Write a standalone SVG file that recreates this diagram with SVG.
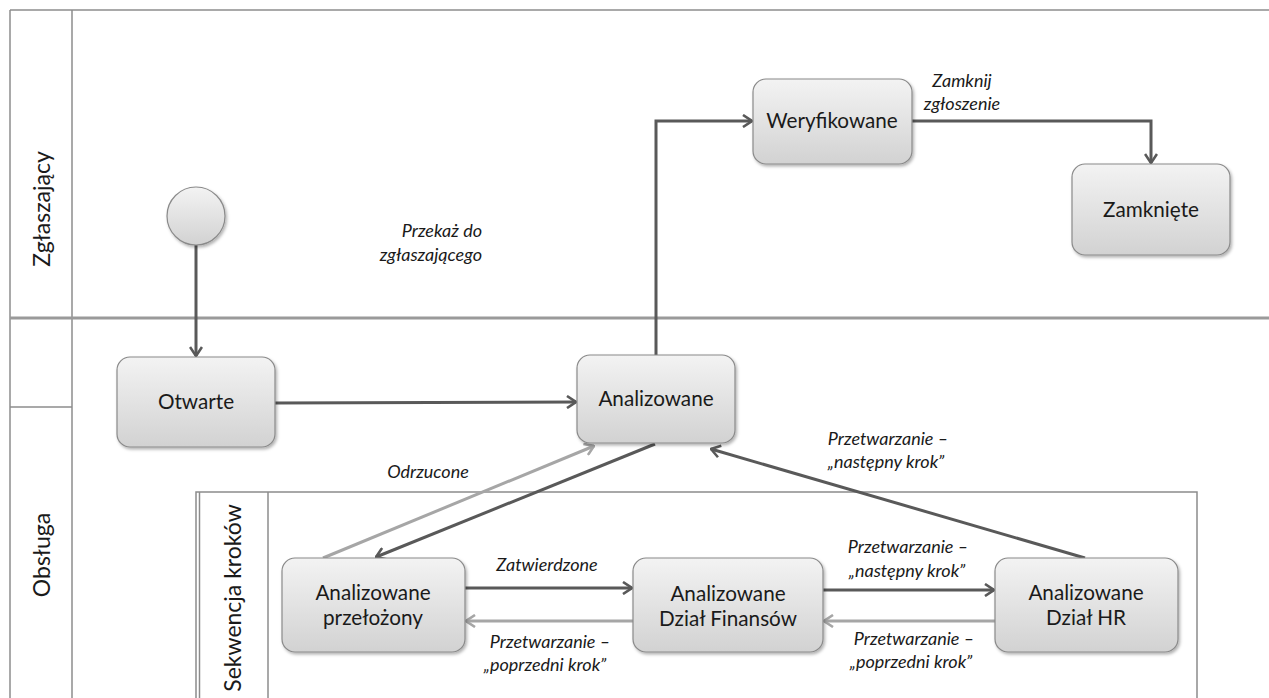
<svg xmlns="http://www.w3.org/2000/svg" width="1269" height="698" viewBox="0 0 1269 698">
<defs>
<linearGradient id="ng" x1="0" y1="0" x2="0" y2="1">
<stop offset="0" stop-color="#f3f3f3"/>
<stop offset="1" stop-color="#d2d2d2"/>
</linearGradient>
<filter id="sh" x="-10%" y="-10%" width="125%" height="130%">
<feDropShadow dx="1.5" dy="2" stdDeviation="1.5" flood-color="#000" flood-opacity="0.3"/>
</filter>
<marker id="ad" viewBox="0 0 12 14" refX="11" refY="7" markerWidth="12" markerHeight="14" markerUnits="userSpaceOnUse" orient="auto">
<path d="M2,1 L11,7 L2,13" fill="none" stroke="#595959" stroke-width="2.6"/>
</marker>
<marker id="al" viewBox="0 0 12 14" refX="11" refY="7" markerWidth="12" markerHeight="14" markerUnits="userSpaceOnUse" orient="auto">
<path d="M2,1 L11,7 L2,13" fill="none" stroke="#a6a6a6" stroke-width="2.6"/>
</marker>
</defs>
<style>
.lane{fill:none;stroke:#8c8c8c;stroke-width:1.5}
.node rect,.node circle{fill:url(#ng);stroke:#8a8a8a;stroke-width:1.2;filter:url(#sh)}
.nt{font-family:Lato,"Liberation Sans",sans-serif;font-size:20.7px;fill:#1a1a1a;text-anchor:middle}
.lt{font-family:Lato,"Liberation Sans",sans-serif;font-size:23px;fill:#1a1a1a;text-anchor:middle}
.el{font-family:Lato,"Liberation Sans",sans-serif;font-size:18px;font-style:italic;fill:#1a1a1a;text-anchor:middle}
.cd{fill:none;stroke:#595959;stroke-width:3;marker-end:url(#ad)}
.cl{fill:none;stroke:#a6a6a6;stroke-width:3;marker-end:url(#al)}
</style>
<rect width="1269" height="698" fill="#fff"/>
<g id="lanes">
<line class="lane" x1="10" y1="10" x2="1269" y2="10"/>
<line class="lane" x1="10" y1="10" x2="10" y2="698"/>
<line class="lane" x1="72" y1="10" x2="72" y2="698"/>
<line x1="10" y1="318" x2="1269" y2="318" stroke="#9a9a9a" stroke-width="3"/>
<line class="lane" x1="10" y1="407" x2="72" y2="407"/>
<text class="lt" transform="translate(50,209) rotate(-90)">Zgłaszający</text>
<text class="lt" transform="translate(50,555) rotate(-90)">Obsługa</text>
</g>
<g id="sekwencja">
<polyline class="lane" points="196,698 196,492 1197,492 1197,698"/>
<line class="lane" x1="199.5" y1="492" x2="199.5" y2="698"/>
<line class="lane" x1="268" y1="492" x2="268" y2="698"/>
<text class="lt" transform="translate(241,598) rotate(-90)">Sekwencja kroków</text>
</g>
<g id="connectors">
<line class="cd" x1="196" y1="245" x2="196" y2="356"/>
<line class="cd" x1="275" y1="403" x2="576" y2="402"/>
<polyline class="cd" points="656,355 656,121 752,121"/>
<polyline class="cd" points="912,121 1151,121 1151,163"/>
<line class="cd" x1="655" y1="444" x2="376" y2="557"/>
<line class="cl" x1="323" y1="558" x2="594" y2="446"/>
<line class="cd" x1="1085" y1="558" x2="711" y2="449"/>
<line class="cd" x1="465" y1="588" x2="632" y2="588"/>
<line class="cl" x1="633" y1="621" x2="466" y2="621"/>
<line class="cd" x1="823" y1="590" x2="994" y2="590"/>
<line class="cl" x1="995" y1="621" x2="824" y2="621"/>
<text class="el" x="962" y="87">Zamknij</text>
<text class="el" x="962" y="110">zgłoszenie</text>
<text class="el" x="482" y="237" style="text-anchor:end">Przekaż do</text>
<text class="el" x="482" y="261" style="text-anchor:end">zgłaszającego</text>
<text class="el" x="428" y="478">Odrzucone</text>
<text class="el" x="547" y="571">Zatwierdzone</text>
<text class="el" x="550" y="648">Przetwarzanie –</text>
<text class="el" x="545" y="671">„poprzedni krok”</text>
<text class="el" x="908" y="553">Przetwarzanie –</text>
<text class="el" x="907" y="577">„następny krok”</text>
<text class="el" x="914" y="645">Przetwarzanie –</text>
<text class="el" x="911" y="668">„poprzedni krok”</text>
<text class="el" x="888" y="445">Przetwarzanie –</text>
<text class="el" x="886" y="468">„następny krok”</text>
</g>
<g id="start" class="node"><circle cx="196" cy="216" r="29"/></g>
<g id="otwarte" class="node"><rect x="117" y="357" width="158" height="90" rx="13"/><text class="nt" x="196" y="409">Otwarte</text></g>
<g id="analizowane" class="node"><rect x="577" y="355" width="158" height="88" rx="13"/><text class="nt" x="656" y="406">Analizowane</text></g>
<g id="weryfikowane" class="node"><rect x="753" y="79" width="159" height="85" rx="13"/><text class="nt" x="832" y="128">Weryfikowane</text></g>
<g id="zamkniete" class="node"><rect x="1072" y="164" width="158" height="91" rx="13"/><text class="nt" x="1151" y="217">Zamknięte</text></g>
<g id="przelozony" class="node"><rect x="282" y="558" width="183" height="94" rx="13"/><text class="nt" x="373" y="600">Analizowane</text><text class="nt" x="373" y="625">przełożony</text></g>
<g id="finanse" class="node"><rect x="633" y="558" width="190" height="94" rx="13"/><text class="nt" x="728" y="601">Analizowane</text><text class="nt" x="728" y="626">Dział Finansów</text></g>
<g id="hr" class="node"><rect x="995" y="558" width="183" height="94" rx="13"/><text class="nt" x="1086" y="600">Analizowane</text><text class="nt" x="1086" y="625">Dział HR</text></g>
</svg>
